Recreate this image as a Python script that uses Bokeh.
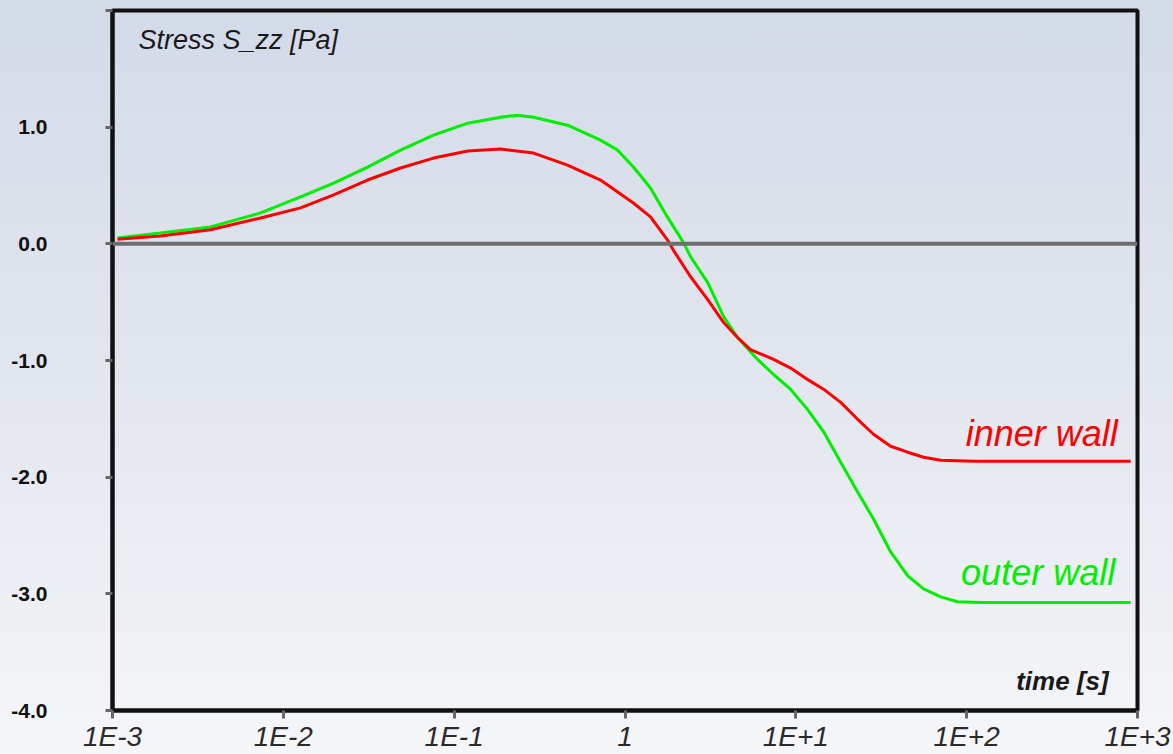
from bokeh.plotting import figure
from bokeh.models import Range1d, FixedTicker, CustomJSTickFormatter, Span, Label
from bokeh.embed import file_html
from bokeh.resources import INLINE

# ---- data ----
outer_t = [1.07e-3, 1.91e-3, 3.75e-3, 7.36e-3, 1.26e-2, 1.97e-2, 3.11e-2, 4.85e-2, 7.57e-2,
           0.120, 0.187, 0.235, 0.292, 0.461, 0.719, 0.906, 1.12, 1.41, 1.77, 2.2, 2.42,
           3.05, 3.78, 4.56, 5.97, 7.41, 9.33, 11.7, 14.6, 18.3, 23.0, 28.5, 35.9, 45.2,
           56.0, 70.5, 88.5, 121.0, 912.0]
outer_s = [0.051, 0.094, 0.145, 0.265, 0.402, 0.521, 0.658, 0.803, 0.932,
           1.034, 1.085, 1.103, 1.085, 1.017, 0.889, 0.803, 0.658, 0.479, 0.231, 0.01, -0.111,
           -0.333, -0.624, -0.803, -0.991, -1.120, -1.248, -1.419, -1.615, -1.872, -2.128,
           -2.359, -2.641, -2.846, -2.957, -3.026, -3.068, -3.075, -3.075]

inner_t = [1.07e-3, 1.91e-3, 3.75e-3, 7.36e-3, 1.26e-2, 1.97e-2, 3.11e-2, 4.85e-2, 7.57e-2,
           0.120, 0.187, 0.292, 0.461, 0.719, 1.12, 1.41, 1.77, 1.93, 2.42, 3.05, 3.78,
           4.56, 5.43, 7.41, 9.33, 11.7, 14.6, 18.3, 23.0, 28.5, 35.9, 45.2, 56.0, 70.5,
           110.0, 912.0]
inner_s = [0.04, 0.068, 0.12, 0.222, 0.308, 0.419, 0.547, 0.650, 0.735,
           0.795, 0.812, 0.778, 0.675, 0.547, 0.350, 0.231, 0.034, -0.060, -0.282, -0.479, -0.675,
           -0.803, -0.906, -0.991, -1.065, -1.162, -1.248, -1.359, -1.504, -1.632, -1.735,
           -1.786, -1.829, -1.855, -1.863, -1.863]

x_ticks = [1e-3, 1e-2, 1e-1, 1.0, 1e1, 1e2, 1e3]
x_tick_labels = ["1E-3", "1E-2", "1E-1", "1", "1E+1", "1E+2", "1E+3"]
y_ticks = [-4, -3, -2, -1, 0, 1, 2]
y_tick_labels = ["-4.0", "-3.0", "-2.0", "-1.0", "0.0", "1.0", ""]

FONT = "Liberation Sans"

p = figure(width=1173, height=754, x_axis_type="log",
           x_range=Range1d(1e-3, 1e3), y_range=Range1d(-4, 2),
           output_backend="svg", toolbar_location=None,
           min_border_left=112, min_border_right=36, min_border_top=10, min_border_bottom=42)

p.styles = {"background": "linear-gradient(to bottom, #d3dae8 0%, #e2e6ee 50%, #f5f6f8 100%)"}
p.background_fill_color = None
p.border_fill_color = None
p.outline_line_color = "#111111"
p.outline_line_width = 4
p.grid.visible = False

# zero line
p.add_layout(Span(location=0, dimension="width", line_color="#6e6e6e", line_width=4))

p.line(outer_t, outer_s, line_color="#00ee00", line_width=3)
p.line(inner_t, inner_s, line_color="#ff0000", line_width=3)

# axes
xa = p.xaxis[0]
xa.ticker = FixedTicker(ticks=x_ticks, minor_ticks=[])
xa.formatter = CustomJSTickFormatter(args=dict(tv=x_ticks, lab=x_tick_labels), code="""
    let best = 0, bd = 1e9;
    for (let i = 0; i < tv.length; i++) {
        const d = Math.abs(Math.log10(tv[i]) - Math.log10(tick));
        if (d < bd) { bd = d; best = i; }
    }
    return lab[best];
""")
xa.axis_line_color = "#111111"
xa.axis_line_width = 4
xa.major_tick_out = 8
xa.major_tick_in = 0
xa.major_tick_line_color = "#666666"
xa.major_tick_line_width = 3
xa.minor_tick_line_color = None
xa.major_label_text_font = FONT
xa.major_label_text_font_style = "italic"
xa.major_label_text_font_size = "28px"
xa.major_label_text_color = "#2a2a2a"
xa.major_label_standoff = 2

ya = p.yaxis[0]
ya.ticker = FixedTicker(ticks=y_ticks, minor_ticks=[])
ya.formatter = CustomJSTickFormatter(args=dict(tv=y_ticks, lab=y_tick_labels), code="""
    let best = 0, bd = 1e9;
    for (let i = 0; i < tv.length; i++) {
        const d = Math.abs(tv[i] - tick);
        if (d < bd) { bd = d; best = i; }
    }
    return lab[best];
""")
ya.axis_line_color = "#111111"
ya.axis_line_width = 4
ya.major_tick_out = 7
ya.major_tick_in = 0
ya.major_tick_line_color = "#666666"
ya.major_tick_line_width = 3
ya.minor_tick_line_color = None
ya.major_label_text_font = FONT
ya.major_label_text_font_style = "bold"
ya.major_label_text_font_size = "21px"
ya.major_label_text_color = "#111111"
ya.major_label_standoff = 58

# annotations
p.add_layout(Label(x=1.42e-3, y=1.875, text="Stress S_zz [Pa]", text_font=FONT,
                   text_font_style="italic", text_font_size="27px", text_color="#1a1a1a",
                   text_align="left", text_baseline="top"))
p.add_layout(Label(x=678, y=-3.745, text="time [s]", text_font=FONT,
                   text_font_style="bold italic", text_font_size="26px", text_color="#1a1a1a",
                   text_align="right", text_baseline="alphabetic"))
p.add_layout(Label(x=766, y=inner_s[-1] + 0.235, text="inner wall", text_font=FONT,
                   text_font_style="italic", text_font_size="36px", text_color="#ff0000",
                   text_align="right", text_baseline="alphabetic"))
p.add_layout(Label(x=740, y=outer_s[-1] + 0.255, text="outer wall", text_font=FONT,
                   text_font_style="italic", text_font_size="36px", text_color="#00ee00",
                   text_align="right", text_baseline="alphabetic"))

open("out.html", "w").write(file_html(p, INLINE))
